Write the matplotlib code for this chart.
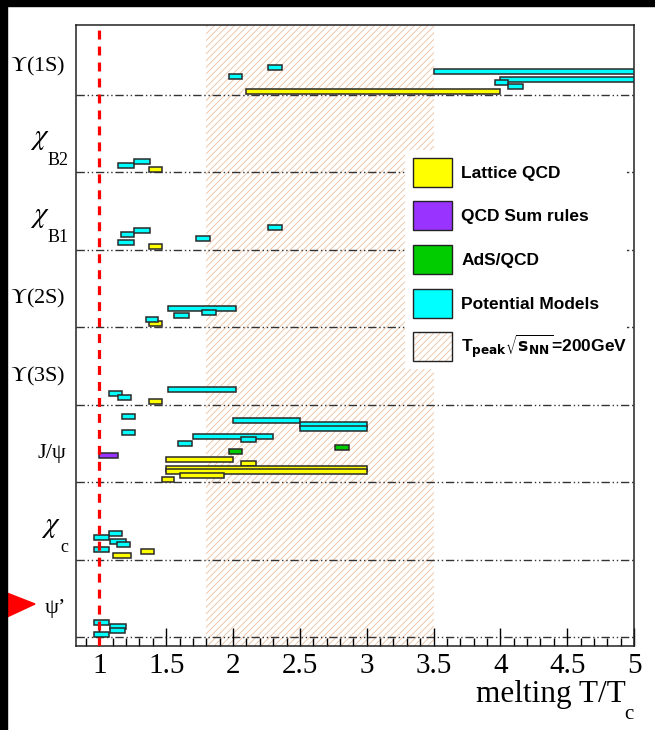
#melting temperatures of quarkonium states from different model classes

import matplotlib
matplotlib.use('Agg')
import matplotlib.pyplot as plt
import matplotlib.image as mpimg
from matplotlib.patches import Patch, Rectangle, Polygon
from matplotlib.legend_handler import HandlerTuple
from matplotlib.ticker import MultipleLocator, FormatStrFormatter
import matplotlib.transforms as mtransforms

# states, bottom row first (chi states get their subscript drawn apart)
states = [r'ψ’', ('χ', 'c'), 'J/ψ', r'$\Upsilon$(3S)', r'$\Upsilon$(2S)',
          ('χ', 'B1'), ('χ', 'B2'), r'$\Upsilon$(1S)']

# each bar: row of the state, lower and upper melting T/Tc, level inside the row
lattice_row = [7, 6, 5, 4, 3, 2, 2, 2, 2, 2, 2, 1, 1]
lattice_lo = [2.1, 1.37, 1.37, 1.37, 1.37, 1.5, 2.06, 1.5, 1.5, 1.6, 1.47, 1.1, 1.31]
lattice_hi = [4.0, 1.47, 1.47, 1.47, 1.47, 2.0, 2.17, 3.0, 3.0, 1.93, 1.56, 1.24, 1.41]
lattice_lev = [0.05, 0.04, 0.05, 0.05, 0.04, 0.29, 0.24, 0.18, 0.14, 0.09, 0.04, 0.05, 0.10]

sumrule_row = [2]
sumrule_lo = [1.0]
sumrule_hi = [1.14]
sumrule_lev = [0.35]

ads_row = [2, 2]
ads_lo = [1.97, 2.76]
ads_hi = [2.07, 2.87]
ads_lev = [0.40, 0.45]

pot_row = [7, 7, 7, 7, 7, 7,
           6, 6,
           5, 5, 5, 5, 5,
           4, 4, 4, 4,
           3, 3, 3,
           2, 2, 2, 2, 2, 2, 2, 2,
           1, 1, 1, 1, 1,
           0, 0, 0, 0]
pot_lo = [1.97, 2.26, 3.5, 4.0, 3.96, 4.06,
          1.14, 1.26,
          1.16, 1.26, 1.14, 1.72, 2.26,
          1.51, 1.56, 1.77, 1.35,
          1.51, 1.07, 1.14,
          1.17, 1.17, 2.0, 2.5, 2.5, 1.7, 2.06, 1.59,
          1.07, 0.96, 1.08, 1.13, 0.96,
          0.96, 1.08, 1.08, 0.96]
pot_hi = [2.07, 2.37, 5.0, 5.0, 4.06, 4.17,
          1.26, 1.38,
          1.26, 1.38, 1.26, 1.83, 2.37,
          2.02, 1.67, 1.87, 1.44,
          2.02, 1.17, 1.24,
          1.27, 1.27, 2.5, 3.0, 3.0, 2.3, 2.17, 1.69,
          1.17, 1.07, 1.2, 1.23, 1.07,
          1.07, 1.2, 1.19, 1.07]
pot_lev = [0.24, 0.35, 0.30, 0.20, 0.16, 0.11,
           0.09, 0.14,
           0.20, 0.25, 0.10, 0.15, 0.29,
           0.24, 0.15, 0.19, 0.10,
           0.20, 0.15, 0.09,
           0.85, 0.64, 0.80, 0.75, 0.69, 0.59, 0.55, 0.50,
           0.34, 0.29, 0.24, 0.19, 0.13,
           0.19, 0.14, 0.09, 0.03]

# RHIC peak temperature band
t_peak = (1.8, 3.5)

series = [
    ('Lattice QCD', '#ffff00', lattice_row, lattice_lo, lattice_hi, lattice_lev),
    ('QCD Sum rules', '#9933ff', sumrule_row, sumrule_lo, sumrule_hi, sumrule_lev),
    ('AdS/QCD', '#00cc00', ads_row, ads_lo, ads_hi, ads_lev),
    ('Potential Models', '#00ffff', pot_row, pot_lo, pot_hi, pot_lev),
]

hatch_col = '#edbf9e'
plt.rcParams['hatch.linewidth'] = 0.6

fig = plt.figure(figsize=(6.55, 7.30), dpi=100, facecolor='white')
ax = fig.add_axes([0.116, 0.115, 0.852, 0.851])

ax.axvspan(t_peak[0], t_peak[1], facecolor='white', edgecolor=hatch_col,
           hatch='/////', lw=0, zorder=0)

for k in range(len(states)):
    ax.axhline(k, color='#333333', lw=1.0, ls=(0, (6, 2, 1, 2, 1, 2)), zorder=1)

for name, col, row, lo, hi, lev in series:
    y = [r + l for r, l in zip(row, lev)]
    w = [b - a for a, b in zip(lo, hi)]
    ax.barh(y, w, left=lo, height=0.065, color=col, edgecolor='#2a2a2a',
            lw=1.1, zorder=3)

ax.axvline(1.0, color='#ff0000', lw=2.3, ls=(0, (2.8, 2.2)), zorder=5)

ax.set_xlim(0.825, 5.0)
ax.set_ylim(-0.116, 7.907)
ax.set_yticks([])
ax.xaxis.set_major_locator(MultipleLocator(0.5))
ax.xaxis.set_minor_locator(MultipleLocator(0.1))
ax.xaxis.set_major_formatter(FormatStrFormatter('%g'))
ax.tick_params(axis='x', which='major', direction='in', length=13, width=1.0,
               pad=5, labelsize=21, top=False)
ax.tick_params(axis='x', which='minor', direction='in', length=6, width=1.0, top=False)
for lab in ax.get_xticklabels():
    lab.set_family('Liberation Serif')
for s in ax.spines.values():
    s.set_linewidth(1.1)
    s.set_color('#222222')

# state names
trans = mtransforms.blended_transform_factory(ax.transAxes, ax.transData)
for k, name in enumerate(states):
    if isinstance(name, tuple):
        sub = ax.text(-0.014, k + 0.16, name[1], transform=trans, ha='right',
                      va='center', fontsize=13, family='Liberation Serif')
        ax.annotate(r'$\chi$', xy=(0.12, 0.95), xycoords=sub, ha='right',
                    va='bottom', fontsize=21, math_fontfamily='stix')
    else:
        ax.text(-0.018, k + 0.37, name, transform=trans, ha='right', va='center',
                fontsize=16, family='Liberation Serif', math_fontfamily='stix')

ax.text(0.986, -0.055, 'melting T/T', transform=ax.transAxes, ha='right', va='top',
        fontsize=22.5, family='Liberation Serif')
ax.text(0.991, -0.11, 'c', transform=ax.transAxes, ha='center', va='center',
        fontsize=15, family='Liberation Serif')

handles = [Patch(facecolor=c, edgecolor='#222222', lw=1.0) for _, c, *_ in series]
handles.append((Patch(facecolor='white', edgecolor=hatch_col, hatch='/////', lw=0),
                Patch(facecolor='none', edgecolor='#222222', lw=1.0)))
labels = [s[0] for s in series] + [r'T$_{\bf peak}\sqrt{\bf s_{NN}}$=200GeV']
leg = ax.legend(handles, labels, loc='upper left',
                bbox_to_anchor=(0.5896, 0.4477, 0.3979, 0.351), mode='expand',
                borderaxespad=0, borderpad=0.45, handlelength=2.25, handleheight=2.2,
                handletextpad=0.55, labelspacing=0.84, fancybox=False,
                framealpha=1, edgecolor='none', facecolor='white',
                prop={'family': 'Liberation Sans', 'weight': 'bold', 'size': 12.5},
                handler_map={tuple: HandlerTuple(ndivide=1, pad=0)})
leg.set_zorder(6)

# black page border and the red marker on the left
fig.patches.append(Rectangle((0, 1 - 6 / 730), 1, 6 / 730, transform=fig.transFigure,
                             color='black', zorder=10))
fig.patches.append(Rectangle((0, 0), 7 / 655, 1, transform=fig.transFigure,
                             color='black', zorder=10))
fig.patches.append(Polygon([(7 / 655, 1 - 593 / 730), (35 / 655, 1 - 604 / 730),
                            (7 / 655, 1 - 617 / 730)], closed=True,
                           transform=fig.transFigure, color='#ff0000', zorder=9))

plt.savefig('out.png', dpi=100, facecolor='white')

img = mpimg.imread('out.png')
right = img[:, -12:, :3].mean()
if img.shape[1] != 655 or right < 0.5:
    raise SystemExit('size %s right strip mean %.3f' % (img.shape, right))
